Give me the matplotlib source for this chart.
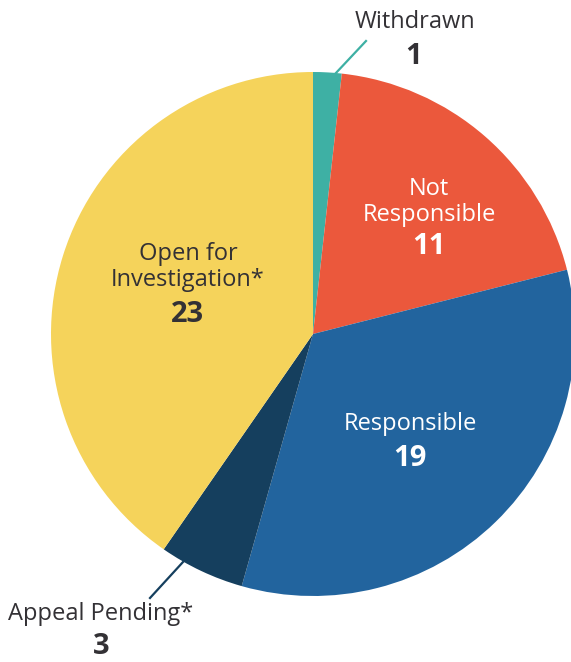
import numpy as np
import matplotlib.pyplot as plt

# Case outcomes
labels = ['Withdrawn', 'Not\nResponsible', 'Responsible', 'Appeal Pending*', 'Open for\nInvestigation*']
values = [1, 11, 19, 3, 23]
colors = ['#3EB0A4', '#EB583C', '#22649E', '#153F5E', '#F5D35B']

plt.rcParams['font.family'] = ['Open Sans', 'DejaVu Sans']
dark = '#333135'

W, H = 571, 662
fig = plt.figure(figsize=(W / 100, H / 100), dpi=100)
ax = fig.add_axes([0, 0, 1, 1])

cx, cy, r = 313, H - 334, 262
ax.pie(values, colors=colors, startangle=90, counterclock=False,
       center=(cx, cy), radius=r, frame=True,
       wedgeprops=dict(linewidth=0))
ax.set_xlim(0, W)
ax.set_ylim(0, H)
ax.set_aspect('equal')
ax.axis('off')

def lab(x, y, name, color):
    ax.text(x, H - y, name, ha='center', va='center', fontsize=17,
            color=color, linespacing=1.1)

def num(x, y, n, color):
    ax.text(x, H - y, str(n), ha='center', va='center', fontsize=21,
            fontweight='bold', color=color)

# outside labels with leader lines
lab(415, 22, labels[0], dark)
num(414, 57, values[0], dark)
ax.plot([335, 366], [H - 74, H - 41], color=colors[0], lw=1.6)

lab(101, 614, labels[3], dark)
num(101, 646, values[3], dark)
ax.plot([183, 150], [H - 562, H - 598], color=colors[3], lw=1.6)

# inside labels
lab(429, 202, labels[1], 'white')
num(429, 247, values[1], 'white')
lab(410, 424, labels[2], 'white')
num(410, 459, values[2], 'white')
lab(188, 267, labels[4], dark)
num(188, 314, values[4], dark)

fig.savefig('out.png', dpi=100)
